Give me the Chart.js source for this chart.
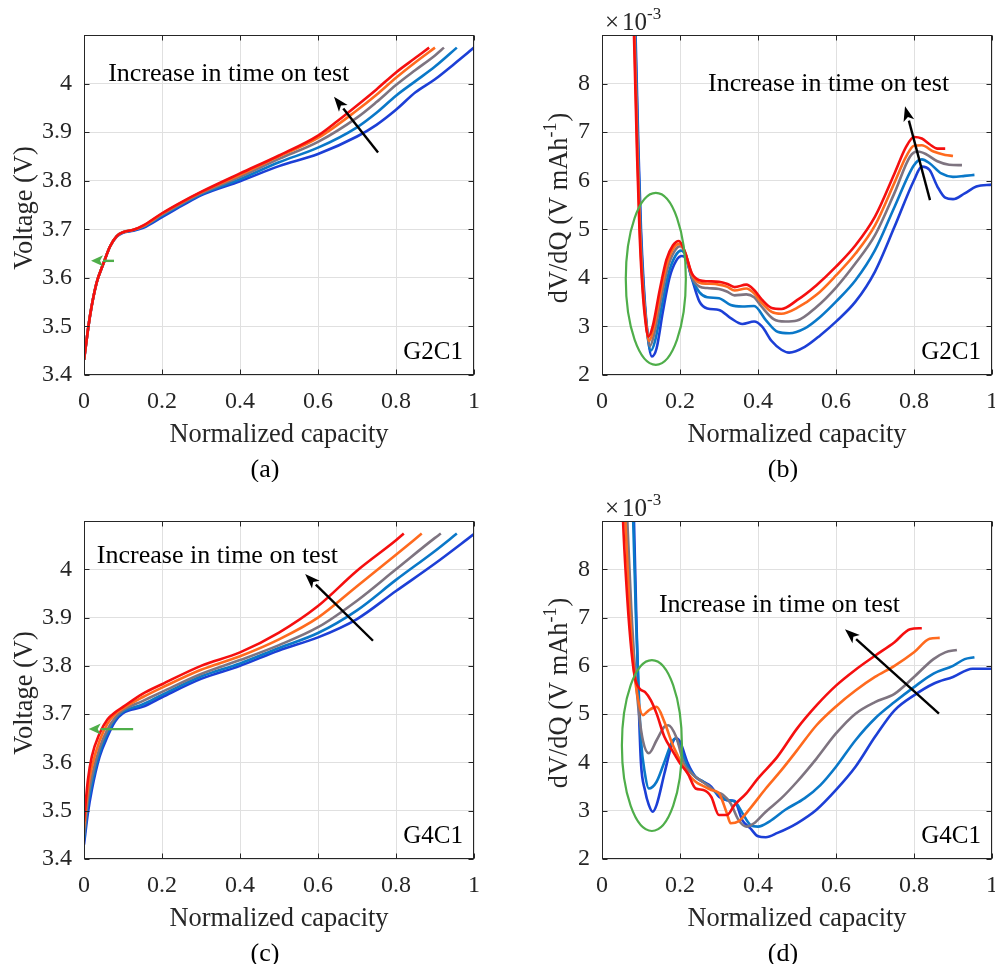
<!DOCTYPE html>
<html><head><meta charset="utf-8">
<script src="https://cdn.jsdelivr.net/npm/chart.js@4.4.0/dist/chart.umd.min.js"></script>
<style>
html,body{margin:0;padding:0;background:#fff;}
#wrap{position:relative;width:995px;height:964px;overflow:hidden;}
.pane{position:absolute;}
canvas{display:block;}
</style></head><body>
<div id="wrap">
  <div class="pane" style="left:0;top:0"><canvas id="ca" width="497" height="482"></canvas></div>
  <div class="pane" style="left:497px;top:0"><canvas id="cb" width="498" height="482"></canvas></div>
  <div class="pane" style="left:0;top:482px"><canvas id="cc" width="497" height="482"></canvas></div>
  <div class="pane" style="left:497px;top:482px"><canvas id="cd" width="498" height="482"></canvas></div>
</div>
<script>
// ---------- tick labels ----------
const capTicks  = [0, 0.2, 0.4, 0.6, 0.8, 1];
const voltTicks = [3.4, 3.5, 3.6, 3.7, 3.8, 3.9, 4.0];
const dvdqTicks = [2, 3, 4, 5, 6, 7, 8];
const seriesNames = ['Test 5', 'Test 4', 'Test 3', 'Test 2', 'Test 1'];

// ---------- (a) G2C1 voltage ----------
const aQ_red    = [0, 0.015, 0.032, 0.05, 0.067, 0.084, 0.1, 0.127, 0.152, 0.2, 0.25, 0.3, 0.4, 0.5, 0.6, 0.65, 0.7, 0.75, 0.8, 0.85, 0.885];
const aV_red    = [3.431, 3.52, 3.589, 3.63, 3.665, 3.686, 3.694, 3.699, 3.708, 3.733, 3.756, 3.777, 3.815, 3.852, 3.893, 3.923, 3.955, 3.988, 4.023, 4.053, 4.074];
const aQ_orange = [0, 0.015, 0.032, 0.05, 0.067, 0.084, 0.1, 0.127, 0.152, 0.2, 0.25, 0.3, 0.4, 0.5, 0.6, 0.7, 0.75, 0.8, 0.85, 0.9];
const aV_orange = [3.431, 3.52, 3.589, 3.63, 3.665, 3.686, 3.694, 3.699, 3.707, 3.732, 3.755, 3.776, 3.812, 3.85, 3.888, 3.945, 3.977, 4.012, 4.044, 4.074];
const aQ_gray   = [0, 0.015, 0.032, 0.05, 0.067, 0.084, 0.1, 0.127, 0.152, 0.2, 0.25, 0.3, 0.4, 0.5, 0.6, 0.7, 0.75, 0.8, 0.85, 0.9, 0.923];
const aV_gray   = [3.431, 3.52, 3.589, 3.63, 3.665, 3.686, 3.694, 3.699, 3.706, 3.730, 3.753, 3.774, 3.808, 3.845, 3.88, 3.93, 3.962, 3.997, 4.028, 4.058, 4.074];
const aQ_ltblue = [0, 0.015, 0.032, 0.05, 0.067, 0.084, 0.1, 0.127, 0.152, 0.2, 0.25, 0.3, 0.4, 0.5, 0.6, 0.7, 0.75, 0.8, 0.85, 0.9, 0.956];
const aV_ltblue = [3.431, 3.52, 3.589, 3.63, 3.665, 3.686, 3.694, 3.698, 3.705, 3.728, 3.751, 3.772, 3.803, 3.838, 3.868, 3.91, 3.94, 3.975, 4.005, 4.035, 4.074];
const aQ_blue   = [0, 0.015, 0.032, 0.05, 0.067, 0.084, 0.1, 0.127, 0.152, 0.2, 0.25, 0.3, 0.4, 0.5, 0.6, 0.7, 0.75, 0.8, 0.85, 0.9, 0.95, 1.0];
const aV_blue   = [3.431, 3.52, 3.589, 3.63, 3.665, 3.685, 3.693, 3.697, 3.703, 3.725, 3.748, 3.770, 3.799, 3.83, 3.855, 3.891, 3.915, 3.946, 3.982, 4.009, 4.041, 4.074];

// ---------- (b) G2C1 dV/dQ (x10^-3) ----------
const bQ_red    = [0.078, 0.082, 0.09, 0.096, 0.102, 0.11, 0.119, 0.13, 0.148, 0.165, 0.182, 0.197, 0.212, 0.23, 0.25, 0.27, 0.3, 0.32, 0.34, 0.37, 0.39, 0.41, 0.435, 0.46, 0.5, 0.55, 0.6, 0.65, 0.7, 0.75, 0.78, 0.8, 0.82, 0.84, 0.86, 0.88];
const bV_red    = [10, 9, 6.5, 5.0, 4.0, 3.2, 2.79, 3.0, 3.75, 4.37, 4.67, 4.76, 4.55, 4.1, 3.95, 3.93, 3.92, 3.88, 3.81, 3.86, 3.75, 3.55, 3.38, 3.36, 3.54, 3.85, 4.23, 4.67, 5.26, 6.15, 6.70, 6.90, 6.87, 6.75, 6.66, 6.66];
const bQ_orange = [0.079, 0.083, 0.091, 0.097, 0.103, 0.111, 0.121, 0.132, 0.15, 0.167, 0.184, 0.199, 0.213, 0.23, 0.25, 0.27, 0.3, 0.32, 0.34, 0.37, 0.39, 0.41, 0.435, 0.46, 0.5, 0.55, 0.6, 0.65, 0.7, 0.75, 0.78, 0.8, 0.82, 0.85, 0.88, 0.9];
const bV_orange = [10, 9, 6.5, 5.0, 4.0, 3.2, 2.7, 2.95, 3.7, 4.3, 4.62, 4.7, 4.52, 4.08, 3.9, 3.88, 3.86, 3.82, 3.74, 3.78, 3.68, 3.48, 3.30, 3.26, 3.38, 3.65, 4.05, 4.5, 5.08, 5.96, 6.50, 6.72, 6.73, 6.6, 6.53, 6.51];
const bQ_gray   = [0.08, 0.084, 0.092, 0.098, 0.104, 0.112, 0.123, 0.134, 0.152, 0.169, 0.186, 0.201, 0.214, 0.23, 0.25, 0.27, 0.3, 0.32, 0.34, 0.37, 0.39, 0.41, 0.44, 0.47, 0.5, 0.55, 0.6, 0.65, 0.7, 0.75, 0.79, 0.81, 0.83, 0.86, 0.89, 0.923];
const bV_gray   = [10, 9, 6.5, 5.0, 4.0, 3.2, 2.6, 2.85, 3.6, 4.22, 4.55, 4.65, 4.5, 4.02, 3.82, 3.79, 3.77, 3.72, 3.64, 3.66, 3.6, 3.40, 3.15, 3.1, 3.12, 3.4, 3.8, 4.3, 4.88, 5.75, 6.5, 6.6, 6.55, 6.4, 6.33, 6.32];
const bQ_ltblue = [0.081, 0.085, 0.093, 0.099, 0.105, 0.113, 0.125, 0.136, 0.154, 0.171, 0.188, 0.203, 0.215, 0.23, 0.25, 0.27, 0.3, 0.33, 0.36, 0.39, 0.42, 0.45, 0.48, 0.52, 0.56, 0.6, 0.65, 0.7, 0.75, 0.8, 0.82, 0.84, 0.87, 0.9, 0.93, 0.955];
const bV_ltblue = [10, 9, 6.5, 5.0, 4.0, 3.1, 2.5, 2.7, 3.45, 4.1, 4.45, 4.56, 4.45, 4.0, 3.7, 3.6, 3.58, 3.44, 3.41, 3.42, 3.13, 2.89, 2.86, 2.96, 3.2, 3.51, 3.95, 4.57, 5.46, 6.32, 6.44, 6.36, 6.15, 6.08, 6.10, 6.12];
const bQ_blue   = [0.082, 0.086, 0.094, 0.1, 0.106, 0.115, 0.128, 0.14, 0.156, 0.173, 0.19, 0.205, 0.215, 0.23, 0.25, 0.27, 0.3, 0.33, 0.36, 0.39, 0.41, 0.435, 0.46, 0.48, 0.52, 0.56, 0.6, 0.65, 0.7, 0.75, 0.8, 0.82, 0.84, 0.86, 0.88, 0.9, 0.93, 0.96, 1.0];
const bV_blue   = [10, 9, 6.5, 5.0, 4.0, 3.0, 2.38, 2.55, 3.3, 4.0, 4.35, 4.45, 4.4, 4.0, 3.51, 3.37, 3.34, 3.17, 3.05, 3.10, 3.0, 2.7, 2.52, 2.46, 2.58, 2.82, 3.10, 3.51, 4.13, 5.05, 6.01, 6.29, 6.22, 5.88, 5.65, 5.62, 5.74, 5.88, 5.92];

// ---------- (c) G4C1 voltage ----------
const cQ_red    = [0, 0.01, 0.02, 0.04, 0.06, 0.08, 0.1, 0.15, 0.2, 0.3, 0.4, 0.5, 0.6, 0.7, 0.8, 0.82];
const cV_red    = [3.478, 3.564, 3.612, 3.66, 3.689, 3.704, 3.715, 3.742, 3.762, 3.80, 3.828, 3.869, 3.924, 3.997, 4.06, 4.074];
const cQ_orange = [0, 0.01, 0.02, 0.04, 0.06, 0.08, 0.1, 0.15, 0.2, 0.3, 0.4, 0.5, 0.6, 0.7, 0.8, 0.866];
const cV_orange = [3.465, 3.545, 3.59, 3.645, 3.68, 3.70, 3.712, 3.735, 3.755, 3.792, 3.82, 3.855, 3.90, 3.965, 4.03, 4.074];
const cQ_gray   = [0, 0.01, 0.02, 0.04, 0.06, 0.08, 0.1, 0.15, 0.2, 0.3, 0.4, 0.5, 0.6, 0.7, 0.8, 0.9, 0.915];
const cV_gray   = [3.45, 3.525, 3.57, 3.63, 3.668, 3.693, 3.708, 3.727, 3.746, 3.783, 3.812, 3.843, 3.88, 3.935, 4.0, 4.065, 4.074];
const cQ_ltblue = [0, 0.01, 0.02, 0.04, 0.06, 0.08, 0.1, 0.15, 0.2, 0.3, 0.4, 0.5, 0.6, 0.7, 0.8, 0.9, 0.956];
const cV_ltblue = [3.44, 3.51, 3.555, 3.62, 3.66, 3.69, 3.705, 3.72, 3.74, 3.778, 3.805, 3.837, 3.868, 3.915, 3.978, 4.038, 4.074];
const cQ_blue   = [0, 0.01, 0.02, 0.04, 0.06, 0.08, 0.1, 0.15, 0.2, 0.3, 0.4, 0.5, 0.6, 0.7, 0.8, 0.9, 1.0];
const cV_blue   = [3.43, 3.495, 3.543, 3.612, 3.653, 3.685, 3.702, 3.715, 3.735, 3.773, 3.80, 3.832, 3.859, 3.897, 3.955, 4.012, 4.073];

// ---------- (d) G4C1 dV/dQ (x10^-3) ----------
const dQ_red    = [0.05, 0.054, 0.062, 0.073, 0.084, 0.096, 0.11, 0.125, 0.14, 0.16, 0.18, 0.2, 0.22, 0.24, 0.26, 0.28, 0.30, 0.32, 0.34, 0.37, 0.4, 0.45, 0.5, 0.55, 0.6, 0.65, 0.7, 0.75, 0.79, 0.82];
const dV_red    = [10, 9, 7.76, 6.52, 5.77, 5.53, 5.46, 5.29, 5.01, 4.53, 4.25, 3.98, 3.77, 3.46, 3.43, 3.29, 2.91, 2.91, 3.12, 3.36, 3.67, 4.12, 4.70, 5.18, 5.59, 5.92, 6.21, 6.49, 6.76, 6.78];
const dQ_orange = [0.055, 0.06, 0.07, 0.08, 0.09, 0.105, 0.12, 0.14, 0.16, 0.18, 0.2, 0.22, 0.24, 0.26, 0.28, 0.30, 0.32, 0.33, 0.35, 0.38, 0.42, 0.46, 0.5, 0.55, 0.6, 0.65, 0.7, 0.75, 0.8, 0.84, 0.866];
const dV_orange = [10, 9, 7.3, 6.1, 5.42, 4.98, 5.08, 5.15, 4.84, 4.39, 4.05, 3.77, 3.6, 3.51, 3.43, 3.36, 2.95, 2.74, 2.78, 3.05, 3.46, 3.84, 4.25, 4.77, 5.16, 5.49, 5.77, 6.0, 6.28, 6.56, 6.58];
const dQ_gray   = [0.06, 0.065, 0.075, 0.085, 0.095, 0.105, 0.12, 0.14, 0.16, 0.17, 0.19, 0.21, 0.23, 0.25, 0.27, 0.29, 0.31, 0.33, 0.35, 0.37, 0.39, 0.42, 0.46, 0.5, 0.55, 0.6, 0.65, 0.7, 0.75, 0.8, 0.85, 0.88, 0.91];
const dV_gray   = [10, 9, 7.2, 5.9, 5.0, 4.45, 4.19, 4.46, 4.74, 4.77, 4.53, 3.98, 3.77, 3.64, 3.53, 3.4, 3.33, 3.15, 2.81, 2.67, 2.74, 2.98, 3.26, 3.6, 4.08, 4.6, 5.01, 5.25, 5.42, 5.77, 6.14, 6.28, 6.33];
const dQ_ltblue = [0.075, 0.08, 0.087, 0.095, 0.1, 0.11, 0.12, 0.14, 0.16, 0.18, 0.19, 0.2, 0.22, 0.24, 0.26, 0.28, 0.30, 0.32, 0.34, 0.36, 0.38, 0.40, 0.43, 0.47, 0.52, 0.56, 0.6, 0.65, 0.7, 0.75, 0.8, 0.85, 0.9, 0.93, 0.955];
const dV_ltblue = [10, 9, 7.0, 5.3, 4.46, 3.77, 3.46, 3.6, 4.01, 4.43, 4.5, 4.32, 3.91, 3.70, 3.6, 3.46, 3.33, 3.22, 3.19, 2.95, 2.71, 2.67, 2.78, 3.02, 3.26, 3.53, 3.91, 4.46, 4.91, 5.25, 5.56, 5.84, 6.0, 6.14, 6.18];
const dQ_blue   = [0.078, 0.082, 0.088, 0.095, 0.1, 0.11, 0.12, 0.13, 0.14, 0.16, 0.18, 0.19, 0.2, 0.22, 0.24, 0.26, 0.28, 0.30, 0.32, 0.34, 0.36, 0.38, 0.4, 0.42, 0.45, 0.5, 0.55, 0.6, 0.65, 0.7, 0.75, 0.8, 0.85, 0.9, 0.95, 1.0];
const dV_blue   = [10, 9, 7.0, 5.0, 3.98, 3.43, 3.12, 2.98, 3.12, 3.77, 4.39, 4.5, 4.43, 3.98, 3.70, 3.6, 3.5, 3.29, 3.22, 3.2, 2.8, 2.64, 2.47, 2.45, 2.54, 2.74, 3.02, 3.43, 3.91, 4.53, 5.08, 5.39, 5.63, 5.77, 5.94, 5.94];

// ---------- styling ----------
const lineColors = ['#F50F0F', '#FF6A1E', '#7E7480', '#0A78C8', '#1C3FD6'];
const FONT = "'Liberation Serif', 'Times New Roman', serif";
const AXC = '#262626';
Chart.defaults.font.family = FONT;
Chart.defaults.color = AXC;

function mk(qs, vs, i) {
  return {
    label: seriesNames[i],
    data: qs.map((q, k) => ({x: q, y: vs[k]})),
    borderColor: lineColors[i], backgroundColor: lineColors[i],
    borderWidth: 2.6, pointRadius: 0, fill: false,
    cubicInterpolationMode: 'monotone', clip: 0
  };
}

function drawRuns(ctx, runs, x, y, align) {
  let w = 0;
  runs.forEach(r => { ctx.font = r.size + 'px ' + FONT; w += ctx.measureText(r.t).width + (r.gap || 0); });
  let cx = align === 'center' ? x - w / 2 : (align === 'right' ? x - w : x);
  ctx.textAlign = 'left';
  runs.forEach(r => {
    ctx.font = r.size + 'px ' + FONT;
    cx += (r.gap || 0);
    ctx.fillText(r.t, cx, y + (r.dy || 0));
    cx += ctx.measureText(r.t).width;
  });
}

function arrow(ctx, x1, y1, x2, y2, color, lw, hl, hw) {
  const a = Math.atan2(y2 - y1, x2 - x1);
  const bx = x2 - hl * Math.cos(a), by = y2 - hl * Math.sin(a);
  ctx.strokeStyle = color; ctx.fillStyle = color; ctx.lineWidth = lw;
  ctx.beginPath(); ctx.moveTo(x1, y1); ctx.lineTo(bx, by); ctx.stroke();
  ctx.beginPath();
  ctx.moveTo(x2, y2);
  ctx.lineTo(bx + hw / 2 * Math.sin(a), by - hw / 2 * Math.cos(a));
  ctx.lineTo(x2 - hl * 0.75 * Math.cos(a), y2 - hl * 0.75 * Math.sin(a));
  ctx.lineTo(bx - hw / 2 * Math.sin(a), by + hw / 2 * Math.cos(a));
  ctx.closePath(); ctx.fill();
}

const deco = {
  id: 'deco',
  afterDraw(chart, args, o) {
    const ctx = chart.ctx, ca = chart.chartArea, xs = chart.scales.x, ys = chart.scales.y;
    const X = v => xs.getPixelForValue(v), Y = v => ys.getPixelForValue(v);
    ctx.save();
    // inward tick marks on all four sides
    ctx.strokeStyle = AXC; ctx.lineWidth = 1;
    const L = Math.round(ca.left) + 0.5, R = Math.round(ca.right) - 0.5, T = Math.round(ca.top) + 0.5, B = Math.round(ca.bottom) - 0.5;
    ctx.beginPath();
    capTicks.forEach(v => { const p = Math.round(X(v)) + 0.5; ctx.moveTo(p, B); ctx.lineTo(p, B - 5); ctx.moveTo(p, T); ctx.lineTo(p, T + 5); });
    o.yTicks.forEach(v => { const p = Math.round(Y(v)) + 0.5; ctx.moveTo(L, p); ctx.lineTo(L + 5, p); ctx.moveTo(R, p); ctx.lineTo(R - 5, p); });
    ctx.stroke();
    ctx.strokeRect(L, T, R - L, B - T);
    // x title
    ctx.fillStyle = AXC; ctx.textBaseline = 'middle'; ctx.textAlign = 'center';
    ctx.font = '26.4px ' + FONT;
    ctx.fillText('Normalized capacity', (ca.left + ca.right) / 2, ca.bottom + 60);
    // panel label
    ctx.fillStyle = '#000';
    ctx.font = '26px ' + FONT;
    ctx.fillText(o.panel, ca.left + 181, ca.bottom + 95);
    // y title (rotated)
    ctx.save();
    ctx.translate(ca.left - o.yTitleOff, (ca.top + ca.bottom) / 2 + 3);
    ctx.rotate(-Math.PI / 2);
    ctx.fillStyle = AXC; ctx.textBaseline = 'middle';
    drawRuns(ctx, o.yTitle, 0, 0, 'center');
    ctx.restore();
    // exponent label
    if (o.expo) {
      ctx.fillStyle = AXC; ctx.textBaseline = 'middle';
      drawRuns(ctx, [{t: '×', size: 25}, {t: '10', size: 25, gap: 3}, {t: '-3', size: 17, dy: -8}], ca.left + 3, ca.top - 12, 'left');
    }
    // cell label
    ctx.fillStyle = '#000'; ctx.textBaseline = 'alphabetic'; ctx.textAlign = 'right';
    ctx.font = '25px ' + FONT;
    ctx.fillText(o.cell, ca.right - 11, ca.bottom - 16);
    // annotation text
    ctx.textAlign = 'left'; ctx.font = '26px ' + FONT;
    ctx.fillText('Increase in time on test', X(o.text[0]), Y(o.text[1]));
    // black arrow
    arrow(ctx, X(o.arrow[0]), Y(o.arrow[1]), X(o.arrow[2]), Y(o.arrow[3]), '#000', 2.4, 15, 11);
    // green marks
    const G = '#4FAE4A';
    if (o.garrow) arrow(ctx, X(o.garrow[0]), Y(o.garrow[1]), X(o.garrow[2]), Y(o.garrow[3]), G, 2.4, 12, 11);
    if (o.ellipse) {
      const e = o.ellipse;
      ctx.strokeStyle = G; ctx.lineWidth = 2.2;
      ctx.beginPath();
      ctx.ellipse(X(e[0]), Y(e[1]), Math.abs(X(e[0] + e[2]) - X(e[0])), Math.abs(Y(e[1] + e[3]) - Y(e[1])), 0, 0, Math.PI * 2);
      ctx.stroke();
    }
    ctx.restore();
  }
};

function makeChart(id, sets, ymin, ymax, yTicks, yw, pad, xh, deco_opts) {
  const fmt = v => String(parseFloat(v.toFixed(2)));
  return new Chart(document.getElementById(id), {
    type: 'line',
    data: { datasets: sets },
    options: {
      responsive: false, animation: false, devicePixelRatio: 1,
      layout: { padding: pad },
      plugins: { legend: { display: false }, tooltip: { enabled: false }, deco: deco_opts },
      scales: {
        x: {
          type: 'linear', min: 0, max: 1,
          afterBuildTicks: s => { s.ticks = capTicks.map(v => ({value: v})); },
          ticks: { font: { size: 24, lineHeight: 1 }, padding: 15, color: AXC, maxRotation: 0, autoSkip: false,
                   callback: v => capTicks.includes(+v.toFixed(2)) ? fmt(v) : '' },
          grid: { color: '#e0e0e0', lineWidth: 1, drawTicks: false },
          border: { display: false },
          afterFit: s => { s.height = xh; s.paddingLeft = 0; s.paddingRight = 0; }
        },
        y: {
          type: 'linear', min: ymin, max: ymax,
          afterBuildTicks: s => { s.ticks = yTicks.concat([ymax]).map(v => ({value: v})); },
          ticks: { font: { size: 24, lineHeight: 1 }, padding: 12, color: AXC, autoSkip: false,
                   callback: v => yTicks.some(t => Math.abs(t - v) < 1e-6) ? fmt(v) : '' },
          grid: { color: '#e0e0e0', lineWidth: 1, drawTicks: false },
          border: { display: false },
          afterFit: s => { s.width = yw; s.paddingTop = 0; s.paddingBottom = 0; }
        }
      }
    },
    plugins: [deco]
  });
}

const voltTitle = [{t: 'Voltage (V)', size: 26.4}];
const dvdqTitle = [{t: 'dV/dQ (V mAh', size: 26.4}, {t: '-1', size: 18, dy: -9}, {t: ')', size: 26.4, gap: 1}];

makeChart('ca', [
  mk(aQ_red, aV_red, 0), mk(aQ_orange, aV_orange, 1), mk(aQ_gray, aV_gray, 2), mk(aQ_ltblue, aV_ltblue, 3), mk(aQ_blue, aV_blue, 4)
], 3.4, 4.1, voltTicks, 84, {left: 0, top: 35, right: 23, bottom: 0}, 107,
{ panel: '(a)', cell: 'G2C1', yTicks: voltTicks, yTitle: voltTitle, yTitleOff: 59,
  text: [0.062, 4.006], arrow: [0.754, 3.858, 0.641, 3.973], garrow: [0.077, 3.635, 0.018, 3.635] });

makeChart('cb', [
  mk(bQ_red, bV_red, 0), mk(bQ_orange, bV_orange, 1), mk(bQ_gray, bV_gray, 2), mk(bQ_ltblue, bV_ltblue, 3), mk(bQ_blue, bV_blue, 4)
], 2, 9, dvdqTicks, 105, {left: 0, top: 35, right: 3, bottom: 0}, 107,
{ panel: '(b)', cell: 'G2C1', yTicks: dvdqTicks, yTitle: dvdqTitle, yTitleOff: 42, expo: true,
  text: [0.272, 7.85], arrow: [0.841, 5.60, 0.777, 7.535], ellipse: [0.138, 3.98, 0.077, 1.77] });

makeChart('cc', [
  mk(cQ_red, cV_red, 0), mk(cQ_orange, cV_orange, 1), mk(cQ_gray, cV_gray, 2), mk(cQ_ltblue, cV_ltblue, 3), mk(cQ_blue, cV_blue, 4)
], 3.4, 4.1, voltTicks, 84, {left: 0, top: 39, right: 23, bottom: 0}, 105,
{ panel: '(c)', cell: 'G4C1', yTicks: voltTicks, yTitle: voltTitle, yTitleOff: 59,
  text: [0.033, 4.013], arrow: [0.741, 3.852, 0.567, 3.99], garrow: [0.126, 3.669, 0.012, 3.669] });

makeChart('cd', [
  mk(dQ_red, dV_red, 0), mk(dQ_orange, dV_orange, 1), mk(dQ_gray, dV_gray, 2), mk(dQ_ltblue, dV_ltblue, 3), mk(dQ_blue, dV_blue, 4)
], 2, 9, dvdqTicks, 105, {left: 0, top: 39, right: 3, bottom: 0}, 105,
{ panel: '(d)', cell: 'G4C1', yTicks: dvdqTicks, yTitle: dvdqTitle, yTitleOff: 42, expo: true,
  text: [0.146, 7.11], arrow: [0.864, 5.01, 0.623, 6.76], ellipse: [0.128, 4.35, 0.077, 1.77] });
</script>
</body></html>
